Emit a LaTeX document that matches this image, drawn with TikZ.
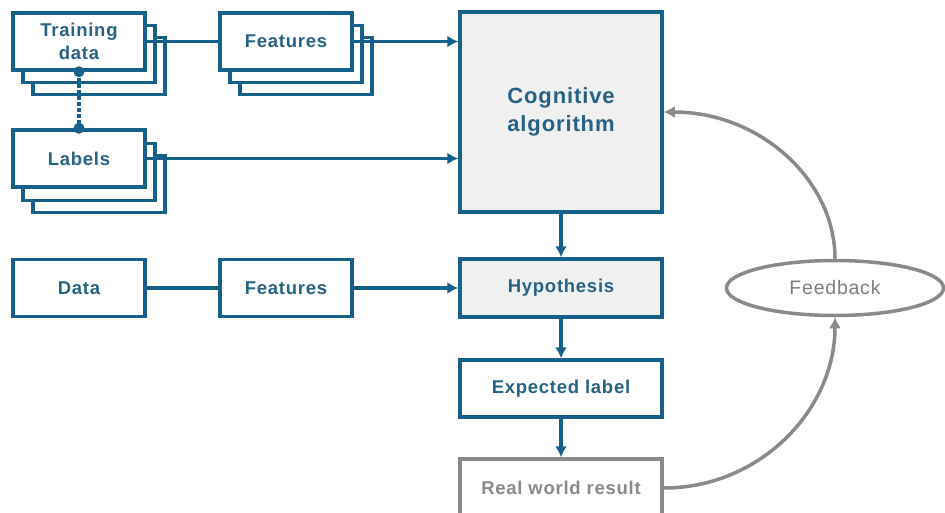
\documentclass[tikz,border=0pt]{standalone}
\usepackage{fontspec}
\setmainfont{Liberation Sans}
\usetikzlibrary{arrows.meta,shapes.geometric}
\definecolor{flowblue}{RGB}{22,96,140}
\definecolor{flowtext}{RGB}{38,98,132}
\definecolor{flowgray}{RGB}{138,138,138}
\definecolor{fbtext}{RGB}{125,125,125}
\definecolor{flowfill}{RGB}{240,240,240}
\newcommand{\spaced}{\addfontfeature{LetterSpace=4}}
\tikzset{
  box/.style={draw=flowblue, line width=3.5pt, fill=white, minimum width=132pt,
    minimum height=57pt, inner sep=0pt, align=center, text=flowtext,
    font=\fontsize{18.5}{23}\selectfont\bfseries\spaced},
  bigbox/.style={box, minimum width=202pt},
  graybox/.style={bigbox, draw=flowgray, text=flowgray},
  link/.style={draw=flowblue, line width=3.5pt},
  arr/.style={link, -{Latex[length=11pt,width=12pt]}},
  fbarr/.style={draw=flowgray, line width=3.5pt, -{Latex[length=11pt,width=12pt]}},
  dotend/.style={circle, fill=flowblue, inner sep=0pt, minimum size=11pt},
}
\begin{document}
\begin{tikzpicture}[x=1pt,y=-1pt]
\useasboundingbox (0,0) rectangle (945,512);
\clip (0,0) rectangle (945,512);
\fill[white] (0,0) rectangle (945,512);

% stacked inputs: two copies behind each front box
\node[box] (td3) at (99,66) {};
\node[box] (td2) at (89,54) {};
\node[box] (td) at (79,41.5) {Training\\data};

\node[box] (ft3) at (306,66) {};
\node[box] (ft2) at (296,54) {};
\node[box] (ft) at (286,41.5) {Features};

\node[box] (lb3) at (99,184) {};
\node[box] (lb2) at (89,172) {};
\node[box] (lb) at (79,158.5) {Labels};

% second row
\node[box] (dt) at (79,288) {Data};
\node[box] (ft4) at (286,288) {Features};

% central column
\node[bigbox, fill=flowfill, minimum height=200pt,
  font=\fontsize{22}{28}\selectfont\bfseries\spaced] (cog) at (561,112) {Cognitive\\algorithm};
\node[bigbox, fill=flowfill, minimum height=58pt] (hyp) at (561,288) {Hypothesis};
\node[bigbox] (exp) at (561,388.5) {Expected label};
\node[graybox, minimum height=58pt] (real) at (561,488) {Real world result};

% feedback
\node[ellipse, draw=flowgray, line width=3.5pt, minimum width=217pt, minimum height=55pt,
  inner sep=0pt, text=fbtext, font=\fontsize{19.5}{23}\selectfont\spaced] (fb) at (835,288) {Feedback};

% connectors
\draw[link] (td.east) -- (ft.west);
\draw[arr] (ft.east) -- (cog.west |- ft.east);
\draw[arr] (lb.east) -- (cog.west |- lb.east);
\draw[link] (dt) -- (ft4);
\draw[arr] (ft4) -- (hyp);
\draw[arr] (cog) -- (hyp);
\draw[arr] (hyp) -- (exp);
\draw[arr] (exp) -- (real);

% training data paired with labels
\draw[draw=flowblue, line width=4pt, dotted] (td.south) -- (lb.north);
\node[dotend] (dA) at (td.south) {};
\node[dotend] (dB) at (lb.north) {};

% feedback loop
\draw[fbarr] (fb.north) .. controls (835,180) and (760,112) .. (cog.east);
\draw[fbarr] (real.east) .. controls (760,488) and (835,410) .. (fb.south);
\end{tikzpicture}
\end{document}
